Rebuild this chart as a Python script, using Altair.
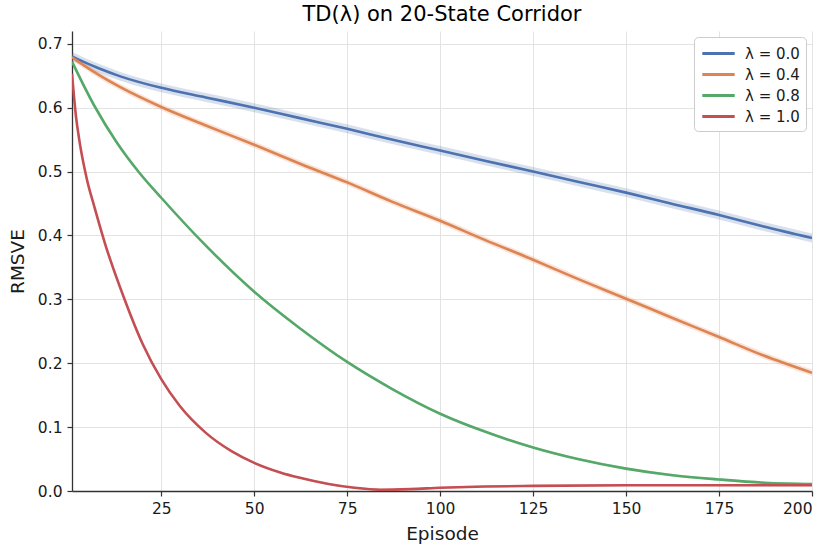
import altair as alt
import pandas as pd

TITLE = "TD(λ) on 20-State Corridor"
X_TITLE = "Episode"
Y_TITLE = "RMSVE"
SERIES = ["λ = 0.0", "λ = 0.4", "λ = 0.8", "λ = 1.0"]
COLORS = ["#4C72B0", "#DD8452", "#55A868", "#C44E52"]
X_TICKS = [25, 50, 75, 100, 125, 150, 175, 200]
Y_TICKS = [0.0, 0.1, 0.2, 0.3, 0.4, 0.5, 0.6, 0.7]

EP_L00 = [1, 4, 8, 14, 25, 37, 50, 62, 75, 87, 100, 112, 125, 137, 150, 162, 175, 187, 200]
RMS_L00 = [0.680, 0.672, 0.662, 0.649, 0.631, 0.616, 0.600, 0.584, 0.567, 0.550,
           0.533, 0.517, 0.500, 0.484, 0.467, 0.450, 0.432, 0.414, 0.396]

EP_L04 = [1, 4, 8, 14, 25, 37, 50, 62, 75, 87, 100, 112, 125, 137, 150, 162, 175, 187, 200]
RMS_L04 = [0.679, 0.667, 0.652, 0.632, 0.601, 0.572, 0.542, 0.513, 0.483, 0.453,
           0.423, 0.393, 0.362, 0.332, 0.301, 0.272, 0.241, 0.212, 0.185]

EP_L08 = [1, 7, 13, 19, 25, 37, 50, 62, 75, 87, 100, 112, 125, 137, 150, 162, 175, 187, 200]
RMS_L08 = [0.672, 0.603, 0.546, 0.499, 0.459, 0.384, 0.312, 0.256, 0.202, 0.160,
           0.121, 0.093, 0.068, 0.050, 0.035, 0.025, 0.018, 0.013, 0.011]

EP_L10 = [1, 2, 3, 5, 7, 10, 15, 20, 25, 30, 37, 44, 50, 57, 62, 70, 77, 84, 92, 100,
          112, 125, 150, 175, 200]
RMS_L10 = [0.653, 0.590, 0.548, 0.488, 0.445, 0.385, 0.302, 0.230, 0.175, 0.133,
           0.091, 0.062, 0.044, 0.029, 0.021, 0.011, 0.005, 0.002, 0.003, 0.005,
           0.007, 0.008, 0.009, 0.009, 0.009]

BAND_HALF = [0.007, 0.005, 0.002, 0.0015]

rows = []
for name, eps, vals, half in zip(
    SERIES,
    [EP_L00, EP_L04, EP_L08, EP_L10],
    [RMS_L00, RMS_L04, RMS_L08, RMS_L10],
    BAND_HALF,
):
    for e, v in zip(eps, vals):
        rows.append({"series": name, "episode": e, "rmsve": v,
                     "lo": v - half, "hi": v + half})
df = pd.DataFrame(rows)

FONT = "DejaVu Sans"

x_enc = alt.X("episode:Q",
              scale=alt.Scale(domain=[1, 200], nice=False, zero=False),
              axis=alt.Axis(title=X_TITLE, values=X_TICKS, format="d"))
y_scale = alt.Scale(domain=[0, 0.72], nice=False)
color_scale = alt.Scale(domain=SERIES, range=COLORS)

band = alt.Chart(df).mark_area(opacity=0.22, interpolate="monotone", clip=True).encode(
    x=x_enc,
    y=alt.Y("lo:Q", scale=y_scale,
            axis=alt.Axis(title=Y_TITLE, values=Y_TICKS, format=".1f")),
    y2="hi:Q",
    color=alt.Color("series:N", scale=color_scale, legend=None),
    detail="series:N",
)

line = alt.Chart(df).mark_line(strokeWidth=2.6, interpolate="monotone", clip=True).encode(
    x=x_enc,
    y=alt.Y("rmsve:Q", scale=y_scale),
    color=alt.Color("series:N", scale=color_scale,
                    legend=alt.Legend(title=None, orient="top-right",
                                      symbolType="M-1.8,0H1.8", symbolSize=324,
                                      symbolStrokeWidth=3, symbolOffset=8,
                                      labelFontSize=15,
                                      labelFont=FONT, labelColor="#1a1a1a",
                                      rowPadding=2, padding=6, offset=6,
                                      strokeColor="#cccccc", fillColor="white",
                                      cornerRadius=4, labelOffset=16)),
    order=alt.Order("series:N"),
)

chart = alt.layer(band, line).resolve_scale(color="independent").properties(
    width=740,
    height=460,
    title=alt.TitleParams(TITLE, fontSize=21, font=FONT, fontWeight="normal",
                          color="black", offset=6, anchor="middle"),
    autosize=alt.AutoSizeParams(type="none"),
    padding={"left": 72, "top": 31, "right": 17, "bottom": 53},
).configure_view(
    stroke=None
).configure_axis(
    labelFont=FONT, titleFont=FONT, labelFontSize=15.5, titleFontSize=18.5,
    titleFontWeight="normal", labelColor="#1a1a1a", titleColor="#1a1a1a",
    domainColor="#333333", domainWidth=1.3, tickColor="#333333", tickWidth=1.2,
    tickSize=5, gridColor="#e3e3e3", gridWidth=1, labelPadding=5,
).configure_axisX(
    titlePadding=8
).configure_axisY(
    titlePadding=10
)

chart.save("out.html", embed_options={"renderer": "svg", "actions": False})
